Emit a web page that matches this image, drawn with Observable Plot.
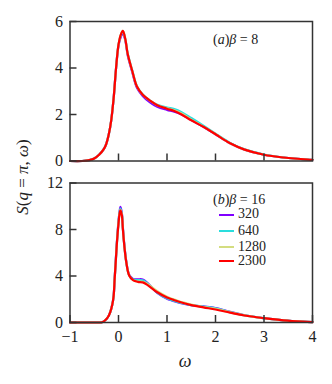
<!DOCTYPE html>
<html><head><meta charset="utf-8">
<script src="https://cdn.jsdelivr.net/npm/d3@7"></script>
<script src="https://cdn.jsdelivr.net/npm/@observablehq/plot@0.6"></script>
<style>
body{margin:0;background:#fff;}
#wrap{position:relative;width:332px;height:384px;font-family:"Liberation Serif",serif;color:#222;overflow:hidden;}
#wrap svg{position:absolute;left:0;overflow:visible;}
.lbl{position:absolute;white-space:nowrap;line-height:1;}
</style></head><body><div id="wrap"></div>
<script>
// ---- data ----
const seriesNames = ["320", "640", "1280", "2300"];
const seriesColors = ["#8000ff", "#2adddd", "#d4dd80", "#ff0000"];
const xTicks = [-1, 0, 1, 2, 3, 4];
const yTicksA = [0, 2, 4, 6];
const yTicksB = [0, 4, 8, 12];

// panel (a) beta = 8
const omegaA = [-1, -0.75, -0.6, -0.5, -0.4, -0.3, -0.25, -0.2, -0.15, -0.1, -0.05, 0, 0.05, 0.09, 0.14, 0.19, 0.28, 0.38, 0.5, 0.65, 0.8, 1.0, 1.15, 1.3, 1.5, 1.75, 2.0, 2.3, 2.6, 3.0, 3.4, 3.9, 4.0];
const a320  = [0, 0, 0.04, 0.11, 0.27, 0.52, 0.75, 1.15, 1.75, 2.7, 4.0, 4.95, 5.35, 5.48, 5.2, 4.55, 3.85, 3.15, 2.8, 2.52, 2.33, 2.2, 2.12, 2.0, 1.76, 1.47, 1.15, 0.76, 0.49, 0.27, 0.15, 0.06, 0.05];
const a640  = [0, 0, 0.04, 0.11, 0.27, 0.52, 0.75, 1.15, 1.75, 2.7, 4.0, 5.0, 5.42, 5.58, 5.25, 4.62, 3.92, 3.22, 2.86, 2.6, 2.42, 2.3, 2.23, 2.1, 1.85, 1.52, 1.18, 0.78, 0.5, 0.28, 0.15, 0.06, 0.05];
const a1280 = [0, 0, 0.04, 0.11, 0.27, 0.52, 0.75, 1.15, 1.75, 2.7, 4.0, 5.0, 5.45, 5.6, 5.25, 4.6, 3.9, 3.2, 2.85, 2.6, 2.4, 2.27, 2.18, 2.04, 1.78, 1.48, 1.16, 0.76, 0.49, 0.27, 0.15, 0.06, 0.05];
const a2300 = [0, 0, 0.04, 0.11, 0.27, 0.52, 0.75, 1.15, 1.75, 2.7, 4.0, 5.0, 5.45, 5.6, 5.25, 4.6, 3.9, 3.2, 2.85, 2.6, 2.4, 2.25, 2.15, 2.0, 1.75, 1.47, 1.15, 0.76, 0.49, 0.27, 0.15, 0.06, 0.05];

// panel (b) beta = 16
const omegaB = [-1, -0.5, -0.4, -0.34, -0.28, -0.22, -0.17, -0.13, -0.1, -0.08, -0.06, -0.03, 0, 0.02, 0.04, 0.07, 0.09, 0.12, 0.16, 0.22, 0.3, 0.4, 0.5, 0.6, 0.8, 1.0, 1.1, 1.25, 1.5, 1.75, 2.0, 2.3, 2.6, 3.0, 3.4, 3.8, 4.0];
const b320  = [0, 0, 0, 0.02, 0.17, 0.45, 0.9, 1.5, 2.3, 3.7, 5.1, 7.1, 8.7, 9.5, 9.95, 9.4, 8.2, 6.7, 5.25, 4.1, 3.75, 3.72, 3.7, 3.4, 2.55, 2.05, 1.9, 1.7, 1.5, 1.38, 1.25, 0.92, 0.62, 0.37, 0.18, 0.07, 0.04];
const b640  = [0, 0, 0, 0.02, 0.17, 0.45, 0.9, 1.5, 2.3, 3.7, 5.05, 7.05, 8.6, 9.4, 9.8, 9.3, 8.1, 6.65, 5.2, 4.07, 3.7, 3.65, 3.62, 3.35, 2.58, 2.08, 1.92, 1.72, 1.5, 1.36, 1.22, 0.9, 0.61, 0.37, 0.18, 0.07, 0.04];
const b1280 = [0, 0, 0, 0.02, 0.17, 0.45, 0.9, 1.5, 2.3, 3.7, 5.0, 7.0, 8.55, 9.3, 9.7, 9.25, 8.1, 6.6, 5.2, 4.05, 3.65, 3.52, 3.5, 3.3, 2.7, 2.22, 2.05, 1.82, 1.55, 1.33, 1.18, 0.88, 0.61, 0.37, 0.18, 0.07, 0.04];
const b2300 = [0, 0, 0, 0.02, 0.17, 0.45, 0.9, 1.5, 2.3, 3.7, 5.0, 7.0, 8.5, 9.3, 9.65, 9.2, 8.05, 6.6, 5.2, 4.05, 3.65, 3.5, 3.45, 3.22, 2.6, 2.15, 2.0, 1.78, 1.5, 1.3, 1.12, 0.85, 0.6, 0.37, 0.18, 0.07, 0.04];

// ---- build tidy tables ----
function tidy(omega, arrays) {
  const rows = [];
  arrays.forEach((arr, i) => arr.forEach((v, j) => rows.push({w: omega[j], s: v, series: seriesNames[i]})));
  return rows;
}
const dataA = tidy(omegaA, [a320, a640, a1280, a2300]);
const dataB = tidy(omegaB, [b320, b640, b1280, b2300]);

const axisCol = "#333";
const font = "'Liberation Serif', serif";
const fmtInt = d => d3.format("d")(d);

function panel(data, yDomain, yTicks, opts) {
  return Plot.plot({
    width: 332,
    height: opts.height,
    marginLeft: 69.5,
    marginRight: 20,
    marginTop: opts.marginTop,
    marginBottom: opts.marginBottom,
    style: {fontFamily: font, fontSize: "16px", color: "#222", background: "transparent"},
    x: {domain: [-1, 4]},
    y: {domain: yDomain},
    color: {domain: seriesNames, range: seriesColors},
    marks: [
      Plot.line(data, {x: "w", y: "s", stroke: "series", z: "series", strokeWidth: 2.2, curve: "catmull-rom"}),
      Plot.axisY({ticks: yTicks, tickSize: -7, tickPadding: 14, stroke: axisCol, strokeWidth: 1.5, label: null, fill: "#222", tickFormat: fmtInt}),
      Plot.axisX({ticks: opts.showX ? xTicks : xTicks.slice(1, 5), tickSize: -7, tickPadding: 15, stroke: axisCol, strokeWidth: 1.5, label: null, fill: "#222",
        tickFormat: opts.showX ? fmtInt : (() => "")}),
      Plot.frame({stroke: axisCol, strokeWidth: 1.5})
    ]
  });
}

const wrap = document.getElementById("wrap");
const pa = panel(dataA, [0, 6], yTicksA, {height: 170, marginTop: 21, marginBottom: 9.5, showX: false});
pa.style.top = "0px";
wrap.appendChild(pa);
const pb = panel(dataB, [0, 12], yTicksB, {height: 214, marginTop: 12.5, marginBottom: 62, showX: true});
pb.style.top = "170px";
wrap.appendChild(pb);

function addLabel(html, css) {
  const d = document.createElement("div");
  d.className = "lbl";
  d.innerHTML = html;
  Object.assign(d.style, css);
  wrap.appendChild(d);
  return d;
}
// y label
addLabel("<i>S</i>(<i>q</i> = <i>π</i>, <i>ω</i>)", {left: "22px", top: "177px", fontSize: "17px", transform: "translate(-50%,-50%) rotate(-90deg)"});
// x label
addLabel("<i>ω</i>", {left: "185px", top: "361px", fontSize: "18px", transform: "translate(-50%,-50%)"});
// panel annotations
addLabel("(<i>a</i>)<i>β</i> = 8", {left: "213px", top: "40px", fontSize: "14px", transform: "translate(0,-50%)"});
addLabel("(<i>b</i>)<i>β</i> = 16", {left: "213px", top: "200px", fontSize: "14px", transform: "translate(0,-50%)"});
// legend
const legendY = [214.3, 230.7, 246.7, 260.7];
seriesNames.forEach((name, i) => {
  addLabel(`<span style="display:inline-block;width:15px;height:2px;background:${seriesColors[i]};vertical-align:middle;margin-right:4px"></span>${name}`,
    {left: "219px", top: legendY[i] + "px", fontSize: "14px", transform: "translate(0,-50%)"});
});
</script></body></html>
